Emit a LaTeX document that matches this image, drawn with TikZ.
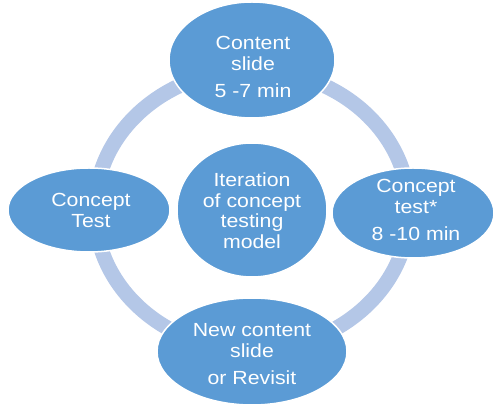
\documentclass[tikz,border=0pt]{standalone}
\usepackage{fontspec}
\setmainfont{Liberation Sans}[FakeStretch=1.12]
\usetikzlibrary{shapes.geometric}
\definecolor{bubblue}{HTML}{5B9BD5}
\definecolor{ringblue}{HTML}{B4C7E7}
\begin{document}
\begin{tikzpicture}[x=1pt,y=1pt,
  bub/.style={ellipse, fill=bubblue, draw=white, line width=1.5pt, inner sep=0pt},
  txt/.style={text=white, inner sep=0pt, anchor=base, font=\fontsize{19}{20.5}\selectfont},
  ring/.style={draw=ringblue, line width=15pt}]
\useasboundingbox (0,0) rectangle (495,409);
\coordinate (c) at (252,199);
\draw[ring] (c) ellipse [x radius=157, y radius=140];
\node[bub, minimum width=166, minimum height=116] (top) at (252,349) {};
\node[bub, minimum width=162, minimum height=90] (right) at (413,196) {};
\node[bub, minimum width=190, minimum height=107] (bottom) at (252,57.5) {};
\node[bub, minimum width=162, minimum height=84] (left) at (89,199) {};
\node[bub, minimum width=150, minimum height=134] (center) at (c) {};
\renewcommand{\arraystretch}{1}
\node[txt] (toptext) at (253,359) {\begin{tabular}[t]{@{}c@{}}Content\\slide\\[7pt]5 -7 min\end{tabular}};
\node[txt] (righttext) at (416,216) {\begin{tabular}[t]{@{}c@{}}Concept\\test*\\[7pt]8 -10 min\end{tabular}};
\node[txt] (bottomtext) at (252,72) {\begin{tabular}[t]{@{}c@{}}New content\\slide\\[7pt]or Revisit\end{tabular}};
\node[txt] (lefttext) at (91,202) {\begin{tabular}[t]{@{}c@{}}Concept\\Test\end{tabular}};
\node[txt] (centertext) at (252,222) {\begin{tabular}[t]{@{}c@{}}Iteration\\of concept\\testing\\model\end{tabular}};
\end{tikzpicture}
\end{document}
